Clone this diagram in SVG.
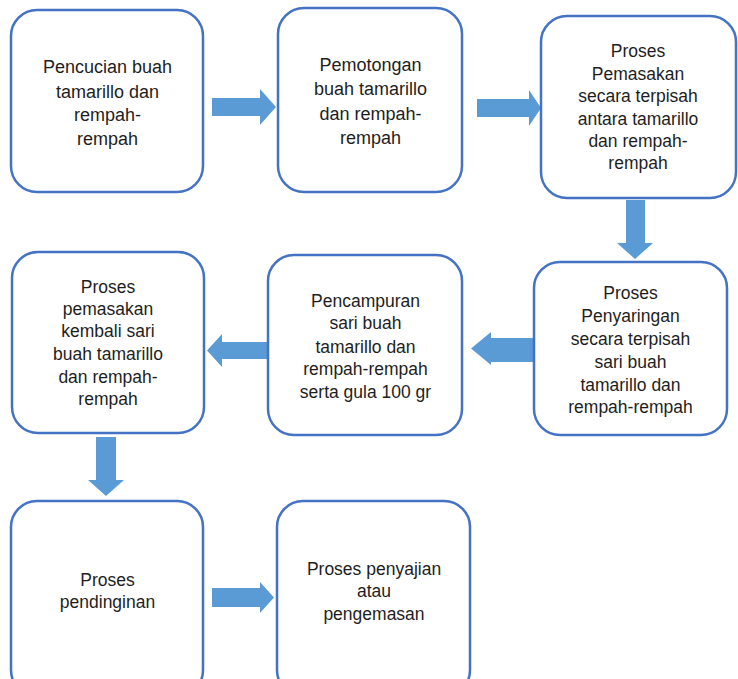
<svg xmlns="http://www.w3.org/2000/svg" width="738" height="679" viewBox="0 0 738 679">
<style>
.box{fill:#fff;stroke:#4472C4;stroke-width:2.5}
.arr{fill:#5B9BD5;stroke:none}
text{font-family:"Liberation Sans",Arial,sans-serif;font-size:17.5px;fill:#1e1e1e;text-anchor:middle}
.big{font-size:18px}
</style>
<rect width="738" height="679" fill="#fff"/>
<g id="connectors">
<polygon class="arr" points="212,98 260,98 260,89 276,107 260,125 260,116 212,116"/>
<polygon class="arr" points="477,99 529,99 529,90 541,108 529,126 529,117 477,117"/>
<polygon class="arr" points="626,200 645,200 645,243 653,243 635,259 617,243 626,243"/>
<polygon class="arr" points="533,338 491,338 491,332 471,348.5 491,365 491,362 533,362"/>
<polygon class="arr" points="270,342 222,342 222,334 207,350.5 222,367 222,359 270,359"/>
<polygon class="arr" points="96,437 116,437 116,480 124,480 106,496 88,480 96,480"/>
<polygon class="arr" points="212,588 260,588 260,582 274,597.5 260,613 260,607 212,607"/>
</g>
<g id="n1">
<rect class="box" x="11" y="10" width="192" height="182" rx="26"/>
<text class="big" x="107.5"><tspan x="107.5" y="73">Pencucian buah</tspan><tspan x="107.5" y="97.5">tamarillo dan</tspan><tspan x="107.5" y="121">rempah-</tspan><tspan x="107.5" y="145">rempah</tspan></text>
</g>
<g id="n2">
<rect class="box" x="278" y="8" width="184" height="184" rx="26"/>
<text class="big" x="370.5"><tspan x="370.5" y="71">Pemotongan</tspan><tspan x="370.5" y="95">buah tamarillo</tspan><tspan x="370.5" y="120">dan rempah-</tspan><tspan x="370.5" y="144">rempah</tspan></text>
</g>
<g id="n3">
<rect class="box" x="541" y="16" width="195" height="182" rx="26"/>
<text x="638"><tspan x="638" y="57">Proses</tspan><tspan x="638" y="80">Pemasakan</tspan><tspan x="638" y="102">secara terpisah</tspan><tspan x="638" y="124.5">antara tamarillo</tspan><tspan x="638" y="147">dan rempah-</tspan><tspan x="638" y="168.5">rempah</tspan></text>
</g>
<g id="n4">
<rect class="box" x="534" y="262" width="193" height="173" rx="26"/>
<text x="630.5"><tspan x="630.5" y="299.3">Proses</tspan><tspan x="630.5" y="321.7">Penyaringan</tspan><tspan x="630.5" y="345">secara terpisah</tspan><tspan x="630.5" y="368.3">sari buah</tspan><tspan x="630.5" y="390.7">tamarillo dan</tspan><tspan x="630.5" y="413.3">rempah-rempah</tspan></text>
</g>
<g id="n5">
<rect class="box" x="268" y="255" width="194" height="180" rx="26"/>
<text x="365.5"><tspan x="365.5" y="306.7">Pencampuran</tspan><tspan x="365.5" y="329.3">sari buah</tspan><tspan x="365.5" y="352.7">tamarillo dan</tspan><tspan x="365.5" y="375">rempah-rempah</tspan><tspan x="365.5" y="398.3">serta gula 100 gr</tspan></text>
</g>
<g id="n6">
<rect class="box" x="12" y="252" width="192" height="181" rx="26"/>
<text x="108"><tspan x="108" y="292.7">Proses</tspan><tspan x="108" y="315">pemasakan</tspan><tspan x="108" y="337.3">kembali sari</tspan><tspan x="108" y="360">buah tamarillo</tspan><tspan x="108" y="382.7">dan rempah-</tspan><tspan x="108" y="405">rempah</tspan></text>
</g>
<g id="n7">
<rect class="box" x="11" y="501" width="192" height="195" rx="26"/>
<text x="107.5"><tspan x="107.5" y="586">Proses</tspan><tspan x="107.5" y="608.3">pendinginan</tspan></text>
</g>
<g id="n8">
<rect class="box" x="277" y="501" width="193" height="195" rx="26"/>
<text x="374"><tspan x="374" y="575">Proses penyajian</tspan><tspan x="374" y="597.3">atau</tspan><tspan x="374" y="620">pengemasan</tspan></text>
</g>
</svg>
